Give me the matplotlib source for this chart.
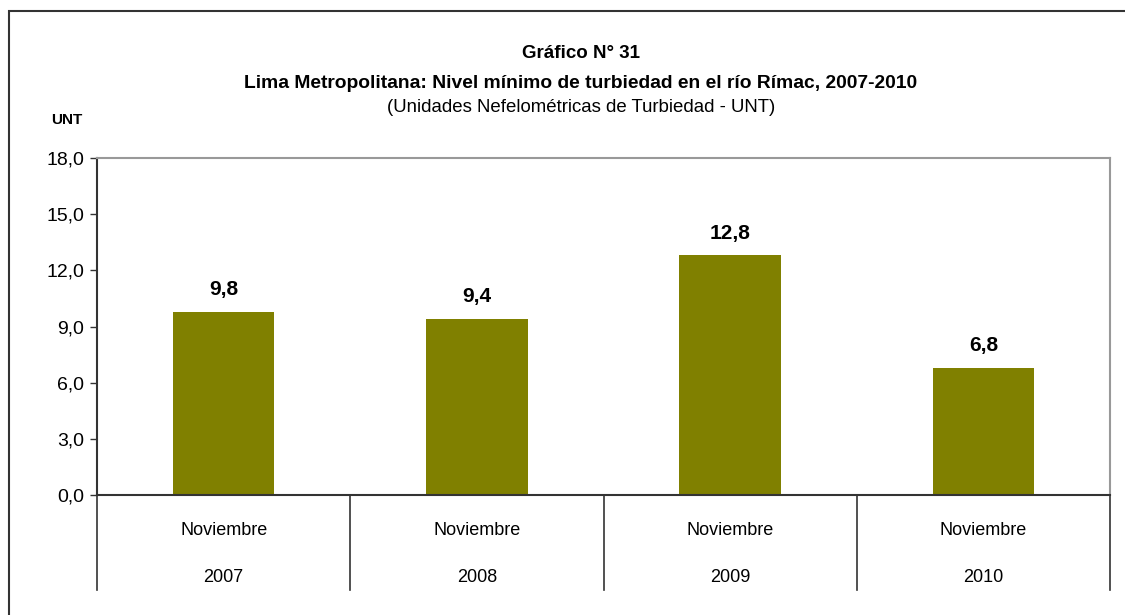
import matplotlib.pyplot as plt
from matplotlib.patches import Rectangle
from matplotlib.lines import Line2D

months = ["Noviembre", "Noviembre", "Noviembre", "Noviembre"]
years = ["2007", "2008", "2009", "2010"]
values = [9.8, 9.4, 12.8, 6.8]
y_ticks = [0, 3, 6, 9, 12, 15, 18]

FONT = ["Liberation Sans", "DejaVu Sans"]
BAR = "#808000"


def fmt(v):
    return f"{v:.1f}".replace(".", ",")


def main():
    W, H = 1125, 615
    fig = plt.figure(figsize=(W / 100, H / 100), dpi=100)
    ax = fig.add_axes([97 / W, 1 - 495 / H, (1110 - 97) / W, (495 - 158) / H])

    x = list(range(len(values)))
    ax.bar(x, values, width=0.4, color=BAR, zorder=2)
    for xi, v in zip(x, values):
        ax.text(xi, v + 0.9, fmt(v), ha="center", va="baseline", fontsize=15,
                fontweight="bold", family=FONT)

    ax.set_xlim(-0.5, len(values) - 0.5)
    ax.set_ylim(0, 18)
    ax.set_yticks(y_ticks)
    ax.set_yticklabels([fmt(t) for t in y_ticks], family=FONT, fontsize=14)
    ax.tick_params(axis="y", length=5, width=1, color="#333333", pad=4)
    ax.set_xticks([])

    ax.spines["left"].set_color("#333333")
    ax.spines["bottom"].set_color("#333333")
    ax.spines["top"].set_color("#999999")
    ax.spines["right"].set_color("#999999")
    for s in ax.spines.values():
        s.set_linewidth(1.5)

    # category table below the axis
    for i in range(len(values) + 1):
        xp = i - 0.5
        ax.add_line(Line2D([xp, xp], [0, -5.1], color="#333333", lw=1.2,
                           clip_on=False))
    for xi, m, yr in zip(x, months, years):
        ax.text(xi, -1.9, m, ha="center", va="center", fontsize=13, family=FONT)
        ax.text(xi, -4.4, yr, ha="center", va="center", fontsize=13, family=FONT)

    # titles
    fig.text(581 / W, 1 - 54 / H, "Gráfico N° 31", ha="center", va="center",
             fontsize=13.5, fontweight="bold", family=FONT)
    fig.text(581 / W, 1 - 83 / H,
             "Lima Metropolitana: Nivel mínimo de turbiedad en el río Rímac, 2007-2010",
             ha="center", va="center", fontsize=13.9, fontweight="bold", family=FONT)
    fig.text(581 / W, 1 - 108 / H, "(Unidades Nefelométricas de Turbiedad - UNT)",
             ha="center", va="center", fontsize=13.4, family=FONT)
    fig.text(67 / W, 1 - 120 / H, "UNT", ha="center", va="center", fontsize=11,
             fontweight="bold", family=FONT)

    # outer frame
    fig.add_artist(Rectangle((9 / W, -0.1), 1.2, 1 - 11 / H + 0.1,
                             transform=fig.transFigure, fill=False,
                             edgecolor="#333333", lw=1.5))

    fig.savefig("out.png", dpi=100)


if __name__ == "__main__":
    main()
